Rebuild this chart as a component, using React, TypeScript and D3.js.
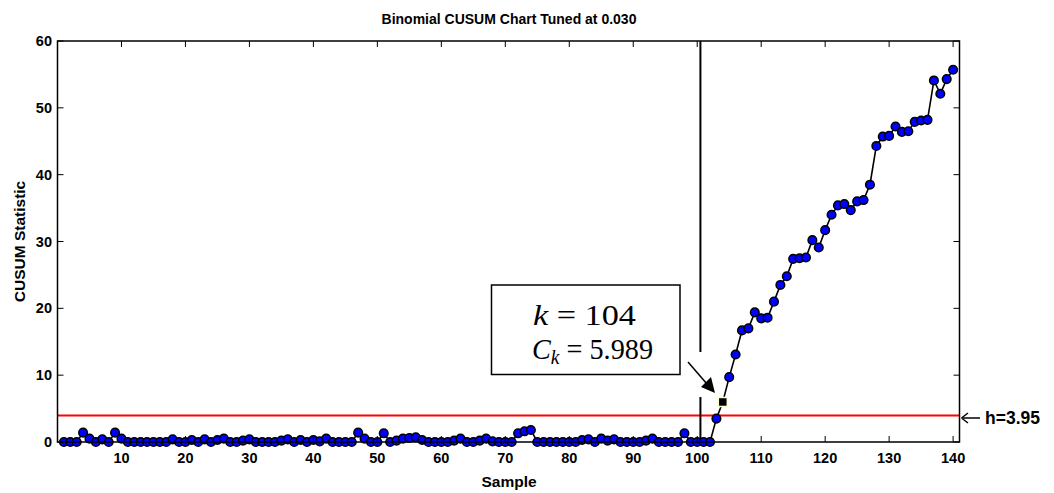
import React from "react";
import * as d3 from "d3";

const samples: number[] = d3.range(1, 141);
const cusumValues: number[] = [
  0, 0, 0, 1.4, 0.5, 0, 0.4, 0, 1.4, 0.5,
  0, 0, 0, 0, 0, 0, 0, 0.4, 0, 0,
  0.3, 0, 0.4, 0, 0.3, 0.5, 0, 0, 0.2, 0.4,
  0, 0, 0, 0, 0.2, 0.4, 0, 0.3, 0, 0.3,
  0.1, 0.5, 0, 0, 0, 0, 1.4, 0.5, 0, 0,
  1.3, 0, 0.2, 0.5, 0.6, 0.7, 0.3, 0, 0, 0,
  0, 0.2, 0.5, 0, 0, 0.2, 0.5, 0.1, 0, 0,
  0, 1.3, 1.6, 1.8, 0, 0, 0, 0, 0, 0,
  0, 0.3, 0.4, 0, 0.5, 0.2, 0.4, 0, 0, 0,
  0, 0.2, 0.5, 0, 0, 0, 0, 1.3, 0, 0,
  0, 0, 3.5, 5.989, 9.7, 13.1, 16.7, 17.0, 19.4, 18.5,
  18.6, 21.0, 23.5, 24.8, 27.4, 27.5, 27.6, 30.2, 29.1, 31.7,
  34.0, 35.4, 35.6, 34.7, 36.0, 36.2, 38.5, 44.3, 45.7, 45.8,
  47.2, 46.4, 46.5, 47.9, 48.1, 48.2, 54.1, 52.1, 54.3, 55.7,
];
const xTicks: number[] = d3.range(10, 141, 10);
const yTicks: number[] = d3.range(0, 61, 10);
const threshold = 3.95;
const signalSample = 104;
const signalValue = 5.989;
const changePoint = 100.5;

const W = 1054;
const H = 493;
const left = 57.5;
const right = 959.5;
const top = 41;
const bottom = 442;

export default function App() {
  const x = d3.scaleLinear().domain([0, 141]).range([left, right]);
  const y = d3.scaleLinear().domain([0, 60]).range([bottom, top]);
  const pts = samples.map((s, i) => ({ s, v: cusumValues[i] }));
  const line = d3
    .line<{ s: number; v: number }>()
    .x((d) => x(d.s))
    .y((d) => y(d.v));
  const font = "Arial, 'Liberation Sans', Helvetica, sans-serif";
  const mathFont = "'Liberation Serif', 'DejaVu Serif', serif";
  const sx = x(signalSample);
  const sy = y(signalValue);

  return (
    <div style={{ position: "absolute", left: 0, top: 0 }}>
      <svg width={W} height={H} style={{ display: "block", background: "#fff" }}>
        <rect x={0} y={0} width={W} height={H} fill="#fff" />
        {/* title */}
        <text x={509} y={24} textAnchor="middle" fontFamily={font} fontWeight="bold" fontSize={14}>
          Binomial CUSUM Chart Tuned at 0.030
        </text>
        {/* threshold */}
        <line x1={left} x2={right} y1={y(threshold)} y2={y(threshold)} stroke="#ff0000" strokeWidth={2} />
        {/* change point vertical line */}
        <line x1={x(changePoint)} x2={x(changePoint)} y1={top} y2={bottom} stroke="#000" strokeWidth={2} />
        {/* data line */}
        <path d={line(pts) || ""} fill="none" stroke="#000" strokeWidth={1.6} />
        {pts.map((d) =>
          d.s === signalSample ? null : (
            <circle key={d.s} cx={x(d.s)} cy={y(d.v)} r={4.3} fill="#0000ff" stroke="#000" strokeWidth={1.5} />
          )
        )}
        {/* signal marker */}
        <rect x={sx - 4.5} y={sy - 4.5} width={9} height={9} fill="#000" stroke="#ffffcc" strokeWidth={1.5} />
        {/* axes box */}
        <rect x={left} y={top} width={right - left} height={bottom - top} fill="none" stroke="#000" strokeWidth={1.5} />
        {/* x ticks */}
        {xTicks.map((t) => (
          <g key={"x" + t}>
            <line x1={x(t)} x2={x(t)} y1={bottom} y2={bottom - 6} stroke="#000" strokeWidth={1} />
            <line x1={x(t)} x2={x(t)} y1={top} y2={top + 6} stroke="#000" strokeWidth={1} />
            <text x={x(t)} y={463} textAnchor="middle" fontFamily={font} fontWeight="bold" fontSize={14.5}>
              {t}
            </text>
          </g>
        ))}
        {/* y ticks */}
        {yTicks.map((t) => (
          <g key={"y" + t}>
            <line x1={left} x2={left + 6} y1={y(t)} y2={y(t)} stroke="#000" strokeWidth={1} />
            <line x1={right} x2={right - 6} y1={y(t)} y2={y(t)} stroke="#000" strokeWidth={1} />
            <text x={52} y={y(t) + 5} textAnchor="end" fontFamily={font} fontWeight="bold" fontSize={14.5}>
              {t}
            </text>
          </g>
        ))}
        {/* axis labels */}
        <text x={509} y={487} textAnchor="middle" fontFamily={font} fontWeight="bold" fontSize={15.5}>
          Sample
        </text>
        <text
          transform={`translate(25,${(top + bottom) / 2}) rotate(-90)`}
          textAnchor="middle"
          fontFamily={font}
          fontWeight="bold"
          fontSize={15.5}
        >
          CUSUM Statistic
        </text>
        {/* h label */}
        <line x1={963} x2={980} y1={418} y2={418} stroke="#000" strokeWidth={1.5} />
        <path d="M961.5,418 L968,413 M961.5,418 L968,423" stroke="#000" strokeWidth={1.5} fill="none" />
        <text x={985} y={424} fontFamily={font} fontWeight="bold" fontSize={17.5}>
          h=3.95
        </text>
        {/* annotation box */}
        <rect x={491.5} y={285} width={188.5} height={89.5} fill="#fff" stroke="#000" strokeWidth={1.5} />
        <text x={533} y={325} fontFamily={mathFont} fontSize={29} textLength={103} lengthAdjust="spacingAndGlyphs">
          <tspan fontStyle="italic">k</tspan>
          <tspan> = 104</tspan>
        </text>
        <text x={532} y={359} fontFamily={mathFont} fontSize={29} textLength={121} lengthAdjust="spacingAndGlyphs">
          <tspan fontStyle="italic">C</tspan>
          <tspan fontStyle="italic" fontSize={20} dy={5}>k</tspan>
          <tspan dy={-5}> = 5.989</tspan>
        </text>
        {/* arrow with white background */}
        <rect x={682} y={352} width={35} height={45} fill="#fff" />
        <line x1={688} x2={707} y1={362} y2={384} stroke="#000" strokeWidth={1.5} />
        <path d="M715,393 L701,387 L711,377 Z" fill="#000" />
      </svg>
    </div>
  );
}
